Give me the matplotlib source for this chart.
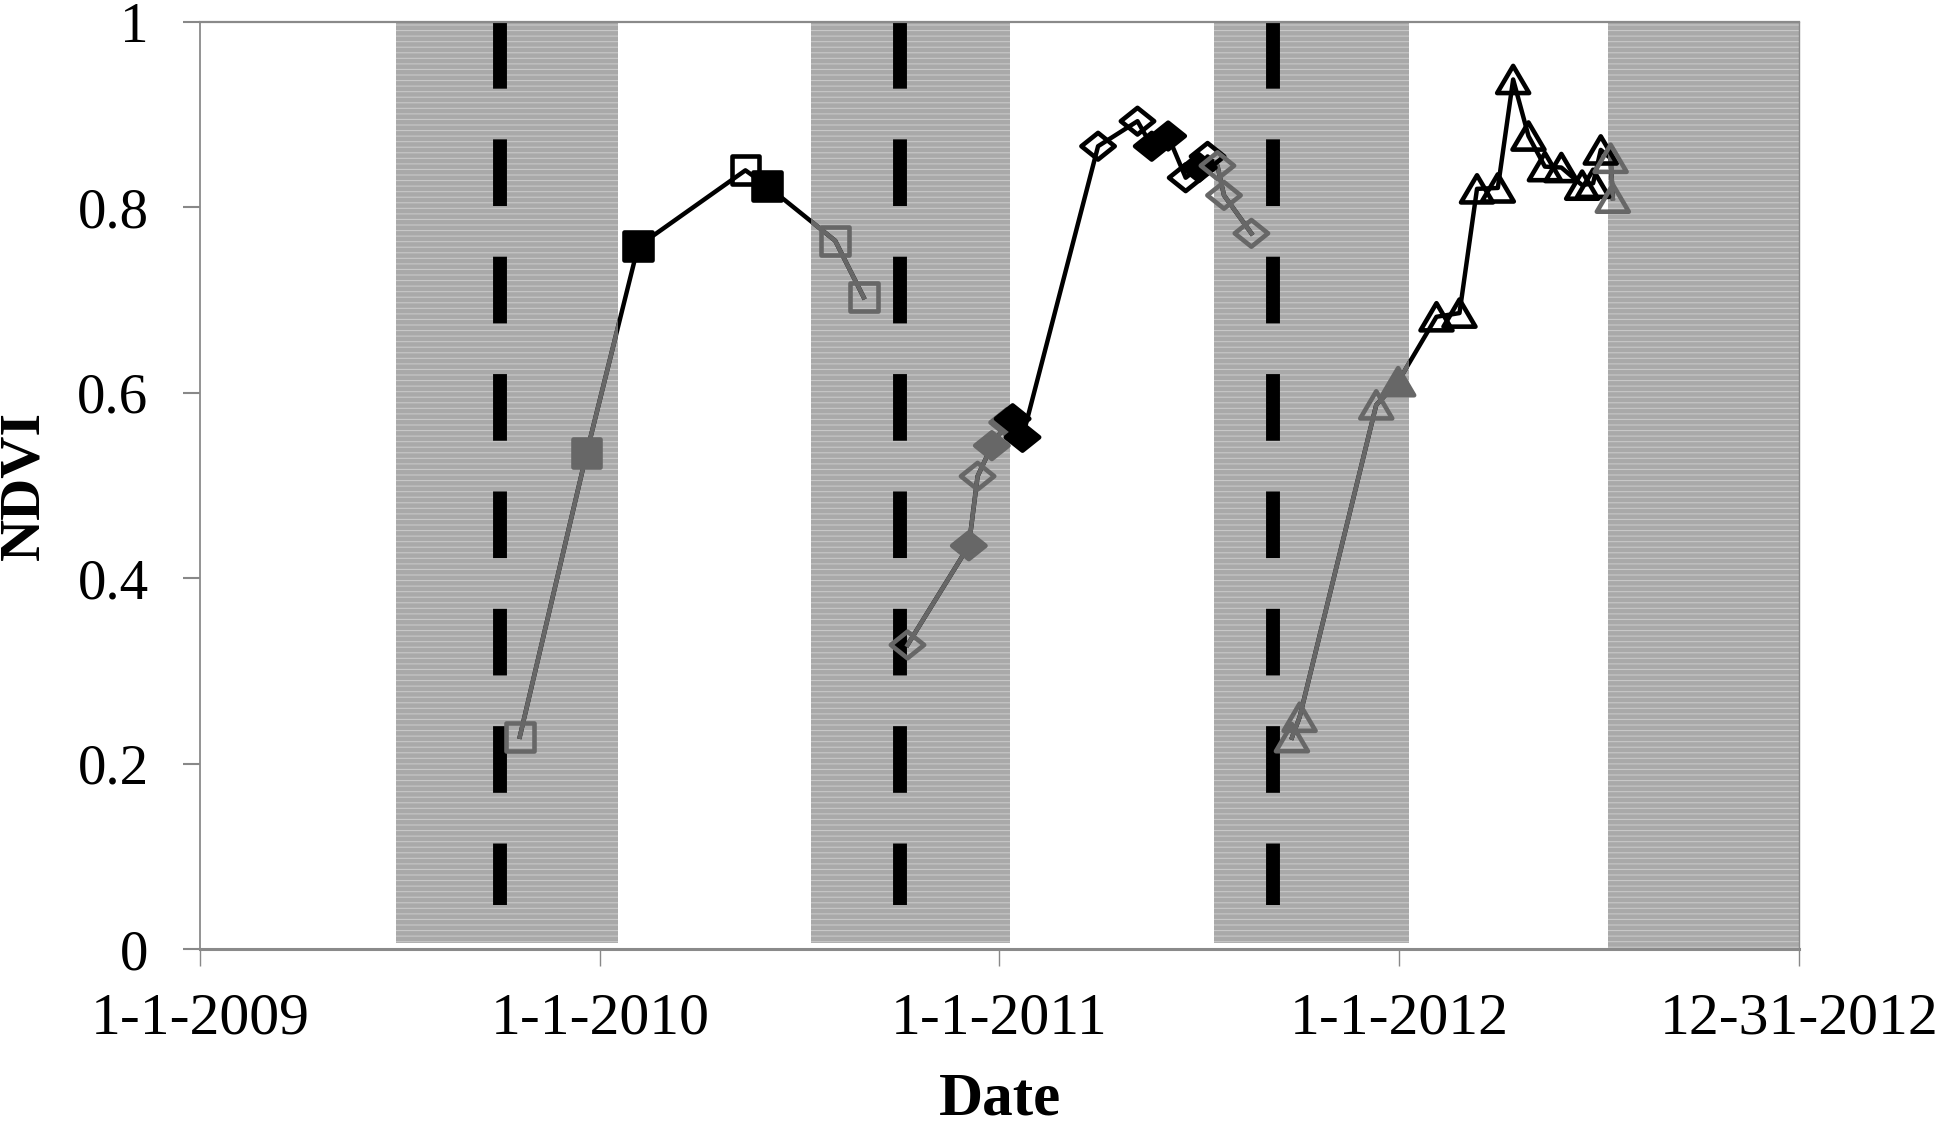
import matplotlib
matplotlib.use('Agg')
import matplotlib.pyplot as plt
from matplotlib.path import Path
from datetime import datetime

# dormant (shaded) periods and sowing dates
shade_periods = [('2009-06-29', '2010-01-18'), ('2010-07-13', '2011-01-11'),
                 ('2011-07-16', '2012-01-10'), ('2012-07-10', '2012-12-31')]
sowing_dates = ['2009-10-02', '2010-10-02', '2011-09-08']

# season 1 (squares)
sq_dates = ['2009-10-20', '2009-12-20', '2010-02-05', '2010-05-14', '2010-06-03',
            '2010-08-04', '2010-08-30']
sq_ndvi = [0.229, 0.535, 0.758, 0.840, 0.823, 0.764, 0.703]
sq_filled = [False, True, True, False, True, False, False]

# season 2 (diamonds)
dm_dates = ['2010-10-09', '2010-12-04', '2010-12-12', '2010-12-25', '2011-01-08',
            '2011-01-13', '2011-01-22', '2011-04-01', '2011-05-07', '2011-05-20',
            '2011-06-04', '2011-06-20', '2011-07-02', '2011-07-10', '2011-07-19',
            '2011-07-25', '2011-08-19']
dm_ndvi = [0.328, 0.435, 0.510, 0.543, 0.568, 0.572, 0.552, 0.866, 0.893, 0.866,
           0.877, 0.832, 0.843, 0.855, 0.845, 0.813, 0.772]
dm_filled = [False, True, False, True, True, True, True, False, False, True,
             True, False, True, False, False, False, False]

# season 3 (triangles)
tr_dates = ['2011-09-25', '2011-10-02', '2011-12-11', '2011-12-31', '2012-02-04',
            '2012-02-25', '2012-03-12', '2012-03-31', '2012-04-14', '2012-04-28',
            '2012-05-13', '2012-05-28', '2012-06-16', '2012-06-26', '2012-07-03',
            '2012-07-12', '2012-07-14']
tr_ndvi = [0.228, 0.250, 0.587, 0.612, 0.682, 0.686, 0.820, 0.821, 0.938, 0.877,
           0.844, 0.843, 0.824, 0.826, 0.862, 0.853, 0.810]
tr_filled = [False, False, False, True] + [False] * 13

xtick_dates = ['2009-01-01', '2010-01-01', '2011-01-01', '2012-01-01', '2012-12-31']
xtick_labels = ['1-1-2009', '1-1-2010', '1-1-2011', '1-1-2012', '12-31-2012']
yticks = [0, 0.2, 0.4, 0.6, 0.8, 1.0]
ytick_labels = ['0', '0.2', '0.4', '0.6', '0.8', '1']

GREY = '#676767'


def d(s):
    return datetime.strptime(s, '%Y-%m-%d')


plt.rcParams['font.family'] = ['Liberation Serif', 'DejaVu Serif']
plt.rcParams['hatch.linewidth'] = 0.8

fig = plt.figure(figsize=(19.41, 11.27), dpi=100)
ax = fig.add_axes([200 / 1941, 1 - 949 / 1127, 1599 / 1941, 927 / 1127])

spans = []
for i, (a, b) in enumerate(shade_periods):
    lo = 0.0 if i == 3 else 0.007
    sp = ax.axvspan(d(a), d(b), ymin=lo, ymax=1.0, facecolor='#a9a9a9',
                    edgecolor='#c8c8c8', hatch='---', lw=0, zorder=1)
    spans.append(sp)

for s in sowing_dates:
    ln, = ax.plot([d(s), d(s)], [1.0, 0.048], color='black', lw=10, zorder=2)
    ln.set_dashes([4.8, 3.65])
    ln.set_dash_capstyle('butt')

diamond = Path([(-1, 0), (0, 0.8), (1, 0), (0, -0.8), (-1, 0)], closed=True)
triangle = Path([(0, 0.85), (-1, -0.85), (1, -0.85), (0, 0.85)], closed=True)


def in_shade(x):
    return any(d(a) <= x <= d(b) for a, b in shade_periods)


def draw(dates, vals, filled, marker, ms):
    x = [d(s) for s in dates]
    ax.plot(x, vals, color='black', lw=3.2, zorder=3)
    for sp in spans:
        g, = ax.plot(x, vals, color=GREY, lw=3.2, zorder=3.1)
        g.set_clip_path(sp)
    ec = [GREY if in_shade(xi) else 'black' for xi in x]
    fc = [e if f else 'none' for e, f in zip(ec, filled)]
    ax.scatter(x, vals, s=ms ** 2, marker=marker, facecolors=fc, edgecolors=ec,
               linewidths=3.3, zorder=4)


draw(sq_dates, sq_ndvi, sq_filled, 's', 20)
draw(dm_dates, dm_ndvi, dm_filled, diamond, 24)
draw(tr_dates, tr_ndvi, tr_filled, triangle, 23)

ax.set_xlim(d('2009-01-01'), d('2012-12-31'))
ax.set_ylim(0, 1)
ax.set_xticks([d(s) for s in xtick_dates])
ax.set_xticklabels(xtick_labels)
ax.set_yticks(yticks)
ax.set_yticklabels(ytick_labels)
ax.tick_params(axis='x', direction='out', length=12, width=1, color='#888888',
               pad=19, labelsize=43)
ax.tick_params(axis='y', direction='out', length=12, width=1.5, color='#888888',
               pad=25, labelsize=41)

for side, lw in [('left', 1.3), ('bottom', 2.2), ('top', 1.6), ('right', 1.0)]:
    ax.spines[side].set_color('#8a8a8a')
    ax.spines[side].set_linewidth(lw)

ax.set_xlabel('Date', fontsize=44, fontweight='bold', va='center')
ax.xaxis.set_label_coords(0.5, -0.162)
ax.set_ylabel('NDVI', fontsize=42, fontweight='bold', va='center')
ax.yaxis.set_label_coords((24 - 200) / 1599, 0.5)

fig.savefig('out.png', dpi=100)
